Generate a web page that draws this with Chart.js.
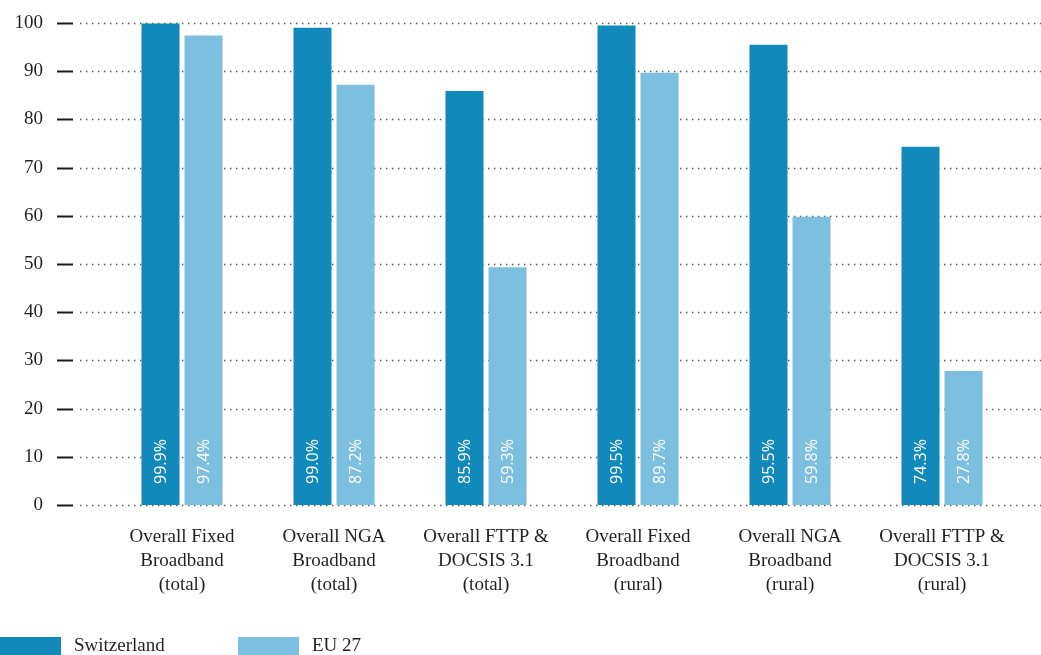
<!DOCTYPE html>
<html>
<head>
<meta charset="utf-8">
<script src="https://cdn.jsdelivr.net/npm/chart.js@4.4.1/dist/chart.umd.min.js"></script>
<style>
html,body{margin:0;padding:0;background:#fff;overflow:hidden;}
#wrap{position:relative;width:1041px;height:655px;}
</style>
</head>
<body>
<div id="wrap"><canvas id="c" width="1041" height="655"></canvas></div>
<script>
const categories = [
  ["Overall Fixed", "Broadband", "(total)"],
  ["Overall NGA", "Broadband", "(total)"],
  ["Overall FTTP &", "DOCSIS 3.1", "(total)"],
  ["Overall Fixed", "Broadband", "(rural)"],
  ["Overall NGA", "Broadband", "(rural)"],
  ["Overall FTTP &", "DOCSIS 3.1", "(rural)"]
];
const seriesNames = ["Switzerland", "EU 27"];
const switzerland = [99.9, 99.0, 85.9, 99.5, 95.5, 74.3];
const eu27 = [97.4, 87.2, 49.3, 89.7, 59.8, 27.8];
const switzerlandLabels = ["99.9%", "99.0%", "85.9%", "99.5%", "95.5%", "74.3%"];
const eu27Labels = ["97.4%", "87.2%", "59.3%", "89.7%", "59.8%", "27.8%"];
const yTicks = [0, 10, 20, 30, 40, 50, 60, 70, 80, 90, 100];

const DARK = "#118abb";
const LIGHT = "#7dbfe1";
const SERIF = "'Liberation Serif', 'DejaVu Serif', serif";
const SANS = "'Open Sans', 'Noto Sans', sans-serif";

const gridPlugin = {
  id: "dotGrid",
  beforeDatasetsDraw(chart) {
    const ctx = chart.ctx, y = chart.scales.y;
    ctx.save();
    yTicks.forEach(v => {
      const py = Math.round(y.getPixelForValue(v)) + 0.5;
      ctx.setLineDash([1.4, 4.6]);
      ctx.strokeStyle = "#555";
      ctx.lineWidth = 1.3;
      ctx.beginPath();
      ctx.moveTo(80, py);
      ctx.lineTo(1041, py);
      ctx.stroke();
      ctx.setLineDash([]);
      ctx.strokeStyle = "#1a1a1a";
      ctx.lineWidth = 2;
      ctx.beginPath();
      ctx.moveTo(57, py);
      ctx.lineTo(73, py);
      ctx.stroke();
    });
    ctx.restore();
  }
};

const labelPlugin = {
  id: "barLabels",
  afterDatasetsDraw(chart) {
    const ctx = chart.ctx;
    const texts = [switzerlandLabels, eu27Labels];
    ctx.save();
    ctx.fillStyle = "#ffffff";
    ctx.font = "16px " + SANS;
    ctx.textAlign = "left";
    ctx.textBaseline = "middle";
    chart.data.datasets.forEach((ds, di) => {
      chart.getDatasetMeta(di).data.forEach((bar, i) => {
        ctx.save();
        ctx.translate(bar.x + 1, bar.base - 21);
        ctx.rotate(-Math.PI / 2);
        ctx.fillText(texts[di][i], 0, 0);
        ctx.restore();
      });
    });
    ctx.restore();
  }
};

const legendPlugin = {
  id: "customLegend",
  afterDraw(chart) {
    const ctx = chart.ctx;
    const pos = [0, 238];
    ctx.save();
    ctx.font = "19px " + SERIF;
    ctx.textBaseline = "middle";
    ctx.textAlign = "left";
    chart.data.datasets.forEach((ds, i) => {
      ctx.fillStyle = ds.backgroundColor;
      ctx.fillRect(pos[i], 637, 61, 20);
      ctx.fillStyle = "#231f20";
      ctx.fillText(ds.label, pos[i] + 74, 646);
    });
    ctx.restore();
  }
};

new Chart(document.getElementById("c"), {
  type: "bar",
  data: {
    labels: categories,
    datasets: [
      { label: seriesNames[0], data: switzerland, backgroundColor: DARK },
      { label: seriesNames[1], data: eu27, backgroundColor: LIGHT }
    ]
  },
  options: {
    responsive: false,
    animation: false,
    devicePixelRatio: 1,
    layout: { padding: { top: 23, right: 23, left: 0, bottom: 0 } },
    datasets: { bar: { categoryPercentage: 0.566, barPercentage: 0.884 } },
    plugins: { legend: { display: false }, tooltip: { enabled: false } },
    scales: {
      x: {
        grid: { display: false, drawTicks: false },
        border: { display: false },
        ticks: { color: "#231f20", font: { family: SERIF, size: 19, lineHeight: 1.26 }, padding: 20, maxRotation: 0, autoSkip: false },
        afterFit(s) { s.height = 150; s.paddingLeft = 0; s.paddingRight = 0; }
      },
      y: {
        min: 0, max: 100,
        grid: { display: false, drawTicks: false },
        border: { display: false },
        ticks: { stepSize: 10, color: "#231f20", font: { family: SERIF, size: 19 }, padding: 63 },
        afterFit(s) { s.width = 106; s.paddingTop = 0; s.paddingBottom = 0; }
      }
    }
  },
  plugins: [gridPlugin, labelPlugin, legendPlugin]
});
</script>
</body>
</html>
